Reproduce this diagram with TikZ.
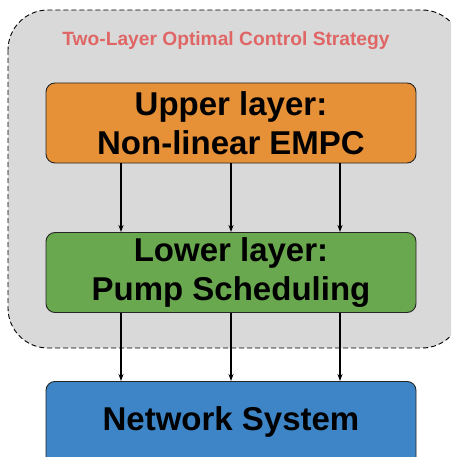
\documentclass[tikz,border=0pt]{standalone}
\usepackage{fontspec}
\setmainfont{Liberation Sans}
\usetikzlibrary{arrows.meta}
\definecolor{outergray}{HTML}{D9D9D9}
\definecolor{titlered}{HTML}{E06666}
\definecolor{boxorange}{HTML}{E69138}
\definecolor{boxgreen}{HTML}{6AA84F}
\definecolor{boxblue}{HTML}{3D85C6}
\tikzset{
  layerbox/.style={draw=black!85, line width=0.9pt, rounded corners=9pt, minimum width=370pt, minimum height=80pt, inner sep=0pt, align=center, font=\fontsize{33}{39}\selectfont\bfseries},
  flowarrow/.style={-{Stealth[length=7pt,width=5pt]}, line width=1.1pt, black}
}
\begin{document}
\begin{tikzpicture}[x=1pt,y=-1pt]
\useasboundingbox (0,0) rectangle (451,457);
\begin{scope}
\clip (0,0) rectangle (451,457);
\draw[fill=outergray, dashed, line width=0.9pt, dash pattern=on 5pt off 3pt, rounded corners=40pt] (8,10) rectangle (462,348);
\node[text=titlered, font=\fontsize{19.2}{22}\selectfont\bfseries] (title) at (226,41) {Two-Layer Optimal Control Strategy};
\node[layerbox, fill=boxorange] (upper) at (231,123) {Upper layer:\\Non-linear EMPC};
\node[layerbox, fill=boxgreen] (lower) at (231,272.5) {Lower layer:\\Pump Scheduling};
\node[layerbox, fill=boxblue, minimum height=90pt, anchor=north] (net) at (231,381) {};
\node[font=\fontsize{33}{39}\selectfont\bfseries] (nettext) at (231,422) {Network System};
\foreach \dx in {-110,0,109}{
  \draw[flowarrow] ([xshift=\dx pt]upper.south) -- ([xshift=\dx pt]lower.north);
  \draw[flowarrow] ([xshift=\dx pt]lower.south) -- ([xshift=\dx pt]net.north);
}
\end{scope}
\end{tikzpicture}
\end{document}
